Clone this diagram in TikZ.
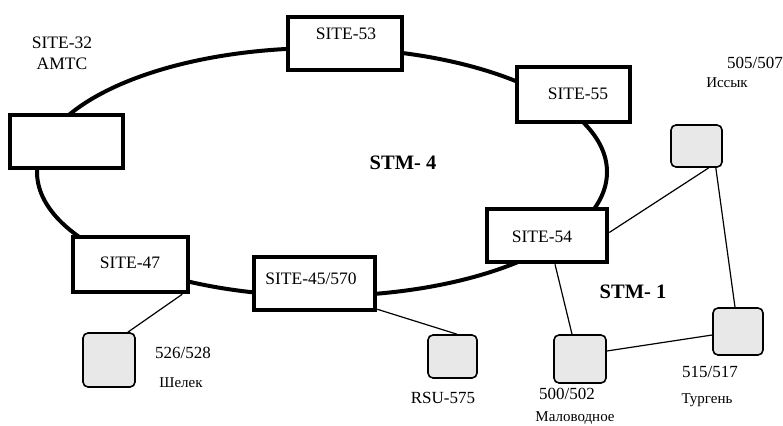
\documentclass[tikz,border=0pt]{standalone}
\usepackage{fontspec}
\setmainfont{Liberation Serif}
\usetikzlibrary{calc}
\tikzset{
  x=1pt, y=-1pt,
  ring/.style={line width=4pt},
  sitebox/.style={draw, line width=4.5pt, fill=white, rectangle, inner sep=0pt},
  nodebox/.style={draw, line width=1.6pt, fill=black!9, rectangle, rounded corners=5pt, inner sep=0pt},
  link/.style={line width=1.2pt},
  sitetext/.style={font=\fontsize{17.5}{18}\selectfont, inner sep=0pt},
  numtext/.style={font=\fontsize{17}{18}\selectfont, inner sep=0pt},
  rutext/.style={font=\fontsize{15}{16}\selectfont, inner sep=0pt},
  stmtext/.style={font=\bfseries\fontsize{20.5}{21}\selectfont, inner sep=0pt}
}
\begin{document}
\begin{tikzpicture}
\useasboundingbox (0,0) rectangle (783,425);

% STM-4 ring
\draw[ring] (322,172) ellipse [x radius=285, y radius=124];

% ring sites
\node[sitebox, minimum width=113pt, minimum height=53pt] (s32) at (66.5,141.5) {};
\node[sitebox, minimum width=114pt, minimum height=53pt] (s53) at (345,43.5) {};
\node[sitebox, minimum width=113pt, minimum height=55pt] (s55) at (573.5,94.5) {};
\node[sitebox, minimum width=120pt, minimum height=53pt] (s54) at (547,235.5) {};
\node[sitebox, minimum width=121pt, minimum height=53pt] (s45) at (314.5,283.5) {};
\node[sitebox, minimum width=115pt, minimum height=55pt] (s47) at (130.5,264.5) {};

\node[sitetext] (t32a) at (62,43) {SITE-32};
\node[sitetext] (t32b) at (62,64) {АМТС};
\node[sitetext] (t53) at (346,34) {SITE-53};
\node[sitetext] (t55) at (578,94) {SITE-55};
\node[sitetext] (t54) at (542,237) {SITE-54};
\node[sitetext] (t45) at (311,279) {SITE-45/570};
\node[sitetext] (t47) at (130,263) {SITE-47};

\node[stmtext] (stm4) at (403,163) {STM- 4};
\node[stmtext] (stm1) at (633,292) {STM- 1};

% access nodes
\node[nodebox, minimum width=52pt, minimum height=54pt] (shelek) at (109,360) {};
\node[nodebox, minimum width=49pt, minimum height=43pt] (rsu) at (452.5,356.5) {};
\node[nodebox, minimum width=52pt, minimum height=48pt] (malo) at (580,359) {};
\node[nodebox, minimum width=50pt, minimum height=47pt] (turgen) at (738,331.5) {};
\node[nodebox, minimum width=51pt, minimum height=42pt] (issyk) at (696.5,146) {};

% STM-1 and tributary links
\draw[link] ($(s47.south east)+(-8,0)$) -- ($(shelek.north east)+(-8,0)$);
\draw[link] ($(s45.south east)+(0,-3)$) -- ($(rsu.north)+(4.5,0)$);
\draw[link] ($(s54.south)+(8,0)$) -- ($(malo.north)+(-8,0)$);
\draw[link] ($(s54.east)+(0,-3)$) -- ($(issyk.south east)+(-14,0)$);
\draw[link] ($(issyk.south east)+(-7,0)$) -- ($(turgen.north)+(-3,0)$);
\draw[link] ($(malo.east)+(0,-8)$) -- ($(turgen.west)+(0,3.5)$);

% labels of access nodes
\node[numtext] (l526) at (183,353) {526/528};
\node[rutext] (lshelek) at (181,383) {Шелек};
\node[numtext] (lrsu) at (443,398) {RSU-575};
\node[numtext] (l500) at (567,394) {500/502};
\node[rutext] (lmalo) at (575,418) {Маловодное};
\node[numtext] (l515) at (710,372) {515/517};
\node[rutext] (lturgen) at (707,400) {Тургень};
\node[numtext, anchor=west] (l505) at (727,63) {505/507};
\node[rutext] (lissyk) at (727,83) {Иссык};
\end{tikzpicture}
\end{document}
